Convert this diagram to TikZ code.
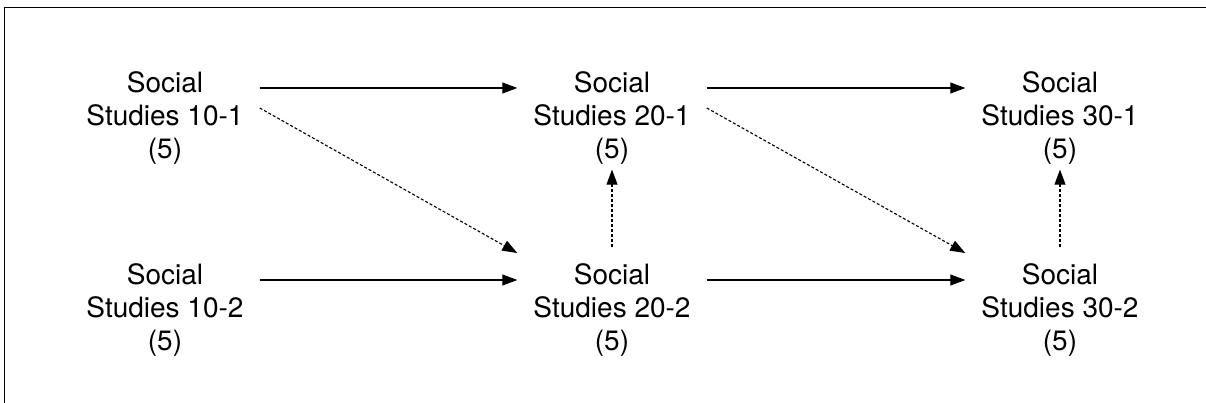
\documentclass[tikz,border=0pt]{standalone}
\usepackage{fontspec}
\setmainfont{TeX Gyre Heros}
\usetikzlibrary{arrows.meta}

\begin{document}
\begin{tikzpicture}[
  x=1pt, y=-1pt,
  course/.style={font=\fontsize{28}{33}\selectfont, align=center, inner sep=16pt},
  link/.style={line width=1.1pt, -{Triangle[length=15pt, width=11pt]}},
  optional/.style={link, dash pattern=on 3pt off 2pt}
]
\useasboundingbox (0,0) rectangle (1206,403);

% Frame
\draw[line width=1.2pt] (4.5,403) -- (4.5,7.5) -- (1206,7.5);

% Courses
\node[course] (ss101) at (165,118) {Social\\Studies 10-1\\(5)};
\node[course] (ss102) at (165,310) {Social\\Studies 10-2\\(5)};
\node[course] (ss201) at (612,118) {Social\\Studies 20-1\\(5)};
\node[course] (ss202) at (612,310) {Social\\Studies 20-2\\(5)};
\node[course] (ss301) at (1060,118) {Social\\Studies 30-1\\(5)};
\node[course] (ss302) at (1060,310) {Social\\Studies 30-2\\(5)};

% Regular sequence
\draw[link] ([yshift=30pt]ss101.east) -- ([yshift=30pt]ss201.west);
\draw[link] ([yshift=30pt]ss201.east) -- ([yshift=30pt]ss301.west);
\draw[link] ([yshift=30pt]ss102.east) -- ([yshift=30pt]ss202.west);
\draw[link] ([yshift=30pt]ss202.east) -- ([yshift=30pt]ss302.west);

% Transfers
\draw[optional] ([yshift=10pt]ss101.east) -- ([yshift=57pt]ss202.west);
\draw[optional] ([yshift=10pt]ss201.east) -- ([yshift=57pt]ss302.west);
\draw[optional] (ss202.north) -- ([yshift=11pt]ss201.south);
\draw[optional] (ss302.north) -- ([yshift=11pt]ss301.south);
\end{tikzpicture}
\end{document}
